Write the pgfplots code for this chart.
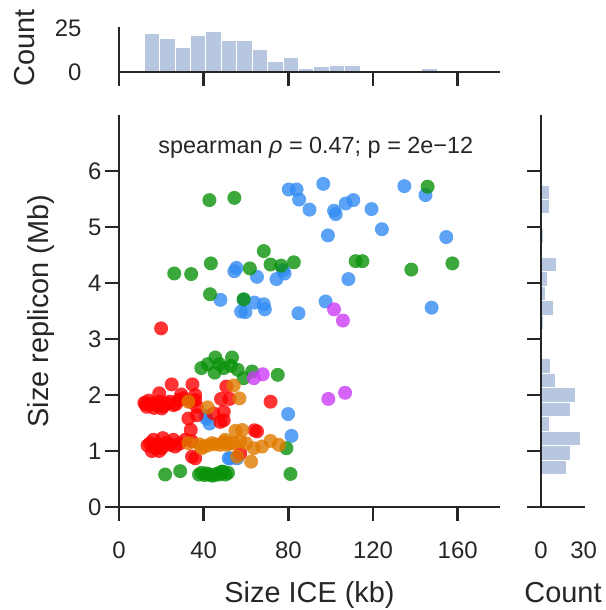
\documentclass[border=0pt]{standalone}
\usepackage{fontspec}
\setmainfont{Liberation Sans}
\usepackage{pgfplots}
\pgfplotsset{compat=1.18}
\definecolor{spine}{RGB}{38,38,38}
\definecolor{histc}{RGB}{183,199,223}
\definecolor{cred}{RGB}{255,0,0}
\definecolor{corange}{RGB}{224,122,0}
\definecolor{cgreen}{RGB}{11,146,11}
\definecolor{cblue}{RGB}{51,139,242}
\definecolor{cmag}{RGB}{202,60,245}
\pgfplotsset{
  common/.style={
    scale only axis,
    axis x line*=bottom, axis y line*=left,
    axis line style={spine, line width=2.5bp},
    tick style={spine, line width=2.5bp},
    major tick length=14bp,
    tick align=outside,
    ticklabel style={font=\fontsize{24}{28}\selectfont, text=spine},
    label style={font=\fontsize{29}{33}\selectfont, text=spine},
    /pgf/number format/assume math mode=true,
  },
  sc/.style={only marks, mark=*, mark size=7bp, color=#1, mark options={draw opacity=0, fill=#1, fill opacity=0.8}},
}
\begin{document}
\begin{tikzpicture}
% main scatter
\begin{axis}[common,
  at={(119bp,103bp)}, anchor=south west,
  width=381bp, height=392bp,
  xmin=0, xmax=180, ymin=0, ymax=7,
  xtick={0,40,80,120,160}, ytick={0,1,2,3,4,5,6},
  xticklabel style={anchor=base, yshift=-37bp},
  yticklabel style={anchor=east, xshift=0bp},
  xlabel={Size ICE (kb)}, ylabel={Size replicon (Mb)},
  xlabel style={at={(axis description cs:0.5,0)}, anchor=base, yshift=-95bp},
  ylabel style={at={(axis description cs:-0.205,0.5)}, anchor=center},
  clip=false,
]
\addplot[sc=cblue] table {
80.2 5.67
83.9 5.67
85.1 5.49
90.0 5.31
96.5 5.77
101.6 5.29
102.4 5.23
107.1 5.42
110.7 5.48
119.3 5.32
134.8 5.73
144.8 5.57
98.7 4.85
124.2 4.96
154.6 4.82
108.4 4.07
97.6 3.67
147.7 3.56
55.5 4.27
54.5 4.21
65.2 4.11
74.4 4.07
78.2 4.17
77.5 4.23
47.9 3.70
58.9 3.70
64.0 3.65
68.4 3.62
68.9 3.53
57.7 3.49
59.7 3.48
84.8 3.46
40.9 1.63
41.2 1.58
42.8 1.49
51.8 0.87
52.6 0.87
55.8 0.87
79.9 1.66
81.5 1.27
};
\addplot[sc=cgreen] table {
42.7 5.48
54.5 5.52
68.4 4.57
43.4 4.35
26.1 4.17
34.1 4.16
61.8 4.26
71.6 4.33
76.6 4.31
82.6 4.37
43.0 3.80
58.9 3.71
145.8 5.72
111.8 4.39
115.0 4.39
138.1 4.24
157.5 4.35
45.5 2.67
53.4 2.67
41.9 2.55
38.9 2.48
45.2 2.40
47.5 2.55
49.5 2.48
52.9 2.52
56.1 2.45
58.9 2.30
62.9 2.42
75.0 2.36
79.1 1.05
81.0 0.59
21.8 0.58
28.9 0.64
37.8 0.58
39.0 0.61
40.4 0.57
41.5 0.60
42.7 0.58
44.0 0.56
45.1 0.57
46.5 0.60
47.5 0.58
48.6 0.63
49.1 0.63
50.3 0.58
51.5 0.61
};
\addplot[sc=cred] table {
19.9 3.19
24.9 2.19
34.7 2.19
19.0 2.03
29.4 2.01
36.0 2.00
12.0 1.86
12.5 1.84
13.1 1.79
14.0 1.90
15.5 1.85
16.5 1.77
17.9 1.82
19.4 1.88
20.2 1.76
21.0 1.80
22.6 1.85
24.0 1.88
25.7 1.82
27.0 1.84
28.1 1.91
30.5 1.94
33.6 1.88
36.0 1.91
36.8 1.79
48.2 1.93
52.2 1.93
50.7 2.15
71.6 1.88
32.8 1.58
36.8 1.64
44.7 1.67
49.5 1.70
49.5 1.55
47.9 1.52
33.9 1.375
14.7 1.14
16.3 1.20
20.7 1.23
25.7 1.20
17.1 1.05
20.2 1.05
24.2 1.11
26.5 1.08
31.3 1.20
34.5 1.17
13.5 1.10
18.5 1.12
22.5 1.15
28.5 1.13
15.5 1.00
19.0 1.00
34.5 0.90
36.0 0.87
65.2 1.35
64.0 1.37
57.3 0.96
};
\addplot[sc=corange] table {
32.8 1.88
41.9 1.78
54.2 2.17
56.9 1.94
55.0 1.36
58.2 1.375
32.8 1.14
39.1 1.05
40.0 1.08
38.0 1.12
42.0 1.10
43.9 1.14
45.5 1.12
47.9 1.11
49.5 1.16
50.2 1.20
51.0 1.11
52.6 1.14
54.2 1.14
57.3 1.17
60.0 1.14
55.8 0.90
63.7 1.05
67.6 1.08
71.6 1.18
75.5 1.11
62.4 0.81
};
\addplot[sc=cmag] table {
101.6 3.53
105.8 3.33
98.9 1.93
106.8 2.04
67.9 2.37
63.7 2.30
};
\node[font=\fontsize{23.5}{27}\selectfont, text=spine] at (axis cs:93,6.41) {spearman \textit{ρ} = 0.47; p = 2e−12};
\end{axis}
% top histogram
\begin{axis}[common,
  at={(119bp,538bp)}, anchor=south west,
  width=381bp, height=45bp,
  xmin=0, xmax=180, ymin=0, ymax=25.5,
  xtick={0,40,80,120,160}, xticklabels={},
  ytick={0,25}, ytick style={draw=none},
  yticklabel style={anchor=east, xshift=-20bp},
  ylabel={Count},
  ylabel style={at={(axis description cs:-0.247,0.544)}, anchor=center},
  axis on top,
]
\addplot[ybar interval, fill=histc, draw=white, line width=0.8bp] coordinates {
(11.85,22) (19.14,19) (26.43,14) (33.71,21) (41.00,23) (48.29,18) (55.58,18) (62.86,13) (70.15,6) (77.44,8)
(84.73,2) (92.01,3) (99.30,4) (106.59,4) (113.88,1) (121.16,0) (128.45,0) (135.74,0) (143.03,2) (150.31,1) (157.60,1)
};
\end{axis}
% right histogram
\begin{axis}[common,
  at={(541bp,103bp)}, anchor=south west,
  width=44bp, height=392bp,
  xmin=0, xmax=31, ymin=0, ymax=7,
  xtick={0,30}, xtick style={draw=none},
  xticklabel style={anchor=base, yshift=-37bp},
  ytick={0,1,2,3,4,5,6}, yticklabels={},
  xlabel={Count},
  xlabel style={at={(axis description cs:0.5,0)}, anchor=base, yshift=-95bp},
  axis on top,
]
\addplot[xbar interval, fill=histc, draw=white, line width=0.8bp] coordinates {
(18,0.577) (21,0.836) (28,1.094) (6,1.353) (21,1.612) (24,1.871) (10,2.129) (6.7,2.388) (0.7,2.647) (0,2.905)
(1.7,3.164) (8.8,3.423) (2.9,3.681) (4.8,3.940) (10.7,4.199) (0,4.457) (1.7,4.716) (0,4.975) (6,5.234) (6,5.492) (6,5.751)
};
\end{axis}
\pgfresetboundingbox
\path[use as bounding box] (0,0) rectangle (606bp,610bp);
\end{tikzpicture}
\end{document}
